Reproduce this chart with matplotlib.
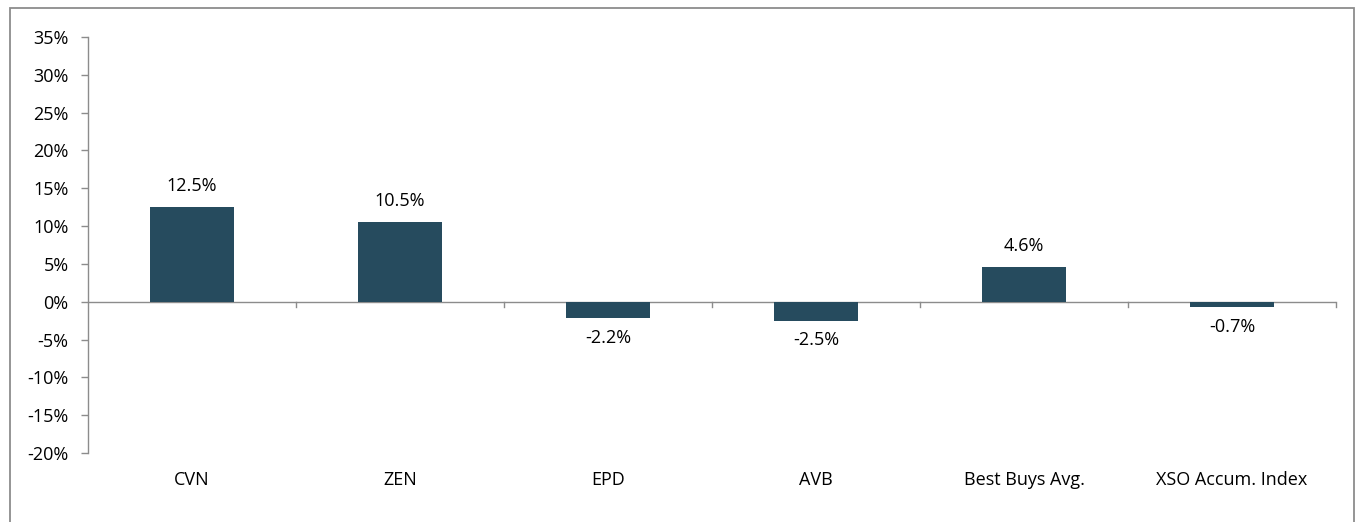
import matplotlib
matplotlib.use("Agg")
import matplotlib.pyplot as plt
from matplotlib.patches import Rectangle

categories = ["CVN", "ZEN", "EPD", "AVB", "Best Buys Avg.", "XSO Accum. Index"]
values = [12.5, 10.5, -2.2, -2.5, 4.6, -0.7]
labels = ["12.5%", "10.5%", "-2.2%", "-2.5%", "4.6%", "-0.7%"]
yticks = [-20, -15, -10, -5, 0, 5, 10, 15, 20, 25, 30, 35]

plt.rcParams['font.family'] = ['Open Sans', 'DejaVu Sans']
W, H = 1355, 522
FS = 13
fig = plt.figure(figsize=(W/100, H/100), dpi=100)

# outer frame
fig.patches.append(Rectangle((9.5/W, -0.05), (1353.5-9.5)/W, 1.05 - 7.5/H,
                             transform=fig.transFigure, fill=False,
                             edgecolor='#8c8c8c', linewidth=1.3))

ax = fig.add_axes([88/W, 1-453/H, (1336-88)/W, (453-37)/H])
color = '#264B5E'
x = list(range(len(categories)))
ax.bar(x, values, width=0.4, color=color, zorder=3)

ax.set_xlim(-0.5, len(categories)-0.5)
ax.set_ylim(-20, 35)
ax.set_yticks(yticks)
ax.set_yticklabels([f"{t}%" for t in yticks])
for s in ['top', 'right', 'bottom']:
    ax.spines[s].set_visible(False)
ax.spines['left'].set_color('#8c8c8c')
ax.spines['left'].set_linewidth(1.0)
ax.tick_params(axis='y', length=5, color='#8c8c8c', width=1.0, labelsize=FS, pad=9, labelcolor='black')

# zero axis line with category boundary ticks
ax.axhline(0, color='#8c8c8c', linewidth=1.0, zorder=2)
ax.set_xticks([])
trans = ax.get_xaxis_transform()
for b in [i + 0.5 for i in range(len(categories))]:
    ax.plot([b, b], [0, -0.7], color='#8c8c8c', linewidth=1.0, zorder=2, clip_on=False)

# category labels below axes
for i, c in enumerate(categories):
    ax.text(i, -0.066, c, transform=trans, ha='center', va='center', fontsize=FS)

# value labels
for i, (v, l) in enumerate(zip(values, labels)):
    if v >= 0:
        ax.text(i, v + 2.8, l, ha='center', va='center', fontsize=FS)
    else:
        ax.text(i, v - 2.6, l, ha='center', va='center', fontsize=FS)

fig.savefig("out.png", dpi=100)
